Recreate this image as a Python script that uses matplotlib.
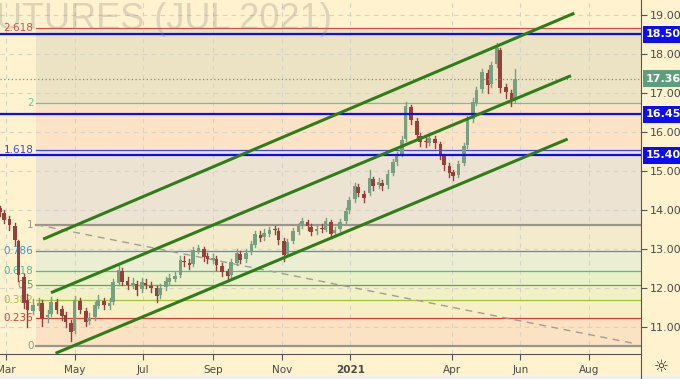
import numpy as np
import pandas as pd
import matplotlib
matplotlib.use('Agg')
import matplotlib.pyplot as plt
import matplotlib.dates as mdates
import matplotlib.transforms as mtransforms

# candles, one candle per 3 trading days
open_ = [14.05, 13.93, 13.78, 13.60, 13.20, 12.30, 11.70, 11.42, 11.55, 11.62,
         11.26, 11.34, 11.64, 11.47, 11.31, 11.12, 10.90, 11.68, 11.43, 11.16,
         11.26, 11.56, 11.68, 11.56, 11.65, 12.14, 12.45, 12.18, 12.07, 12.12,
         11.98, 12.14, 12.07, 12.00, 11.82, 12.03, 12.17, 12.25, 12.34, 12.71,
         12.66, 12.62, 12.96, 13.01, 12.82, 12.73, 12.76, 12.58, 12.44, 12.34,
         12.66, 12.89, 12.75, 12.93, 13.12, 13.37, 13.31, 13.40, 13.51, 13.47,
         13.22, 12.87, 13.21, 13.45, 13.62, 13.70, 13.58, 13.46, 13.54, 13.50,
         13.70, 13.41, 13.51, 13.72, 14.00, 14.28, 14.60, 14.42, 14.45, 14.80,
         14.64, 14.70, 14.64, 14.95, 15.22, 15.43, 15.81, 16.64, 16.29, 15.90,
         15.76, 15.72, 15.82, 15.69, 15.39, 15.13, 14.97, 14.89, 15.20, 15.66,
         16.33, 16.75, 17.09, 17.51, 17.22, 17.73, 18.10, 17.14, 17.00, 16.83]
high = [14.12, 14.00, 13.85, 13.66, 13.25, 12.38, 11.85, 11.72, 11.76, 11.70,
        11.45, 11.78, 11.72, 11.55, 11.40, 11.18, 11.80, 11.75, 11.50, 11.38,
        11.66, 11.82, 11.76, 11.75, 12.25, 12.58, 12.52, 12.28, 12.26, 12.20,
        12.26, 12.24, 12.16, 12.06, 12.10, 12.28, 12.36, 12.42, 12.82, 12.84,
        12.74, 13.06, 13.12, 13.06, 12.90, 12.88, 12.84, 12.64, 12.50, 12.76,
        13.00, 12.96, 13.00, 13.22, 13.48, 13.46, 13.52, 13.58, 13.60, 13.54,
        13.28, 13.26, 13.55, 13.68, 13.80, 13.76, 13.64, 13.62, 13.64, 13.80,
        13.76, 13.58, 13.78, 14.06, 14.34, 14.70, 14.66, 14.50, 15.02, 14.86,
        14.82, 14.78, 15.02, 15.32, 15.50, 15.90, 16.76, 16.70, 16.35, 15.98,
        15.86, 15.96, 15.90, 15.74, 15.44, 15.20, 15.04, 15.26, 15.72, 16.40,
        16.86, 17.16, 17.62, 17.58, 17.80, 18.28, 18.16, 17.24, 17.08, 17.62]
low = [13.85, 13.66, 13.50, 13.10, 12.20, 11.50, 11.00, 11.35, 11.45, 11.05,
       11.15, 11.30, 11.38, 11.20, 11.02, 10.66, 10.85, 11.36, 11.05, 11.08,
       11.20, 11.50, 11.48, 11.48, 11.60, 12.08, 12.08, 11.98, 12.00, 11.82,
       11.92, 12.00, 11.92, 11.66, 11.76, 11.96, 12.10, 12.18, 12.30, 12.58,
       12.50, 12.58, 12.90, 12.70, 12.66, 12.66, 12.48, 12.32, 12.22, 12.28,
       12.60, 12.64, 12.68, 12.88, 13.06, 13.20, 13.24, 13.34, 13.40, 13.14,
       12.70, 12.82, 13.16, 13.38, 13.55, 13.50, 13.36, 13.40, 13.44, 13.46,
       13.30, 13.34, 13.46, 13.66, 13.94, 14.22, 14.36, 14.20, 14.40, 14.52,
       14.56, 14.52, 14.58, 14.90, 15.16, 15.38, 15.76, 16.20, 15.82, 15.64,
       15.62, 15.66, 15.60, 15.30, 15.04, 14.84, 14.76, 14.84, 15.16, 15.60,
       16.26, 16.68, 17.02, 17.00, 17.15, 17.66, 17.02, 16.88, 16.66, 16.76]
close = [13.95, 13.75, 13.62, 13.23, 12.34, 11.63, 11.45, 11.58, 11.63, 11.24,
         11.32, 11.66, 11.45, 11.29, 11.14, 10.88, 11.70, 11.45, 11.14, 11.24,
         11.58, 11.70, 11.58, 11.63, 12.16, 12.47, 12.16, 12.09, 12.14, 11.96,
         12.16, 12.09, 12.01, 11.80, 12.01, 12.19, 12.27, 12.32, 12.73, 12.68,
         12.60, 12.98, 13.03, 12.80, 12.75, 12.78, 12.60, 12.42, 12.32, 12.68,
         12.91, 12.73, 12.91, 13.14, 13.39, 13.29, 13.42, 13.49, 13.49, 13.24,
         12.85, 13.19, 13.47, 13.60, 13.72, 13.60, 13.44, 13.52, 13.52, 13.72,
         13.39, 13.49, 13.70, 13.98, 14.26, 14.62, 14.44, 14.31, 14.82, 14.62,
         14.72, 14.62, 14.93, 15.24, 15.41, 15.79, 16.66, 16.31, 15.92, 15.74,
         15.74, 15.84, 15.71, 15.41, 15.15, 14.95, 14.87, 15.18, 15.64, 16.31,
         16.77, 17.07, 17.53, 17.20, 17.71, 18.15, 17.12, 17.02, 16.81, 17.36]
candle_start = '2020-02-25'

# fibonacci retracement
fib_start = '2020-03-28'
fib_zero = 10.52
fib_one = 13.63
fib_levels = [0, 0.236, 0.382, 0.5, 0.618, 0.786, 1, 1.618, 2, 2.618]
fib_labels = ['0', '0.236', '0.382', '0.5', '0.618', '0.786', '1', '1.618', '2', '2.618']
fib_colors = ['#9a968e', '#d0403c', '#a3c23a', '#4caf50', '#3cc49a', '#3d95d6',
              '#9a968e', '#4848d6', '#5ccc9e', '#d0504a']
fib_fills = ['#fbe2c3', '#f7efc6', '#f1f0c6', '#ecf0c9', '#ebeed2', '#f4ebcd',
             '#ece3d3', '#fde3c5', '#ece3c5']

# channel and trend lines
channel_d0 = ['2020-04-03', '2020-04-10', '2020-04-14']
channel_d1 = ['2021-07-19', '2021-07-16', '2021-07-13']
channel_p0 = [13.26, 11.89, 10.34]
channel_p1 = [19.04, 17.44, 15.82]
trend_d = ['2020-03-28', '2021-09-12']
trend_p = [13.63, 10.58]

blue_levels = [18.50, 16.45, 15.40]
last_price = 17.36

month_ticks = ['2020-03-01', '2020-05-01', '2020-07-01', '2020-09-01', '2020-11-01',
               '2021-01-01', '2021-04-01', '2021-06-01', '2021-08-01']
month_labels = ['Mar', 'May', 'Jul', 'Sep', 'Nov', '2021', 'Apr', 'Jun', 'Aug']

bg = '#fef2cf'
W, H = 680, 379

fig = plt.figure(figsize=(W / 100, H / 100), dpi=100, facecolor=bg)
ax = fig.add_axes([0, 25 / H, 641 / W, 354 / H])
ax.set_facecolor(bg)

d0 = mdates.date2num(pd.Timestamp('2020-03-01'))
ax.set_xlim(d0 - 5.33, d0 + 564.2)
ax.set_ylim(10.322, 19.376)

# fib bands and levels
fx0 = mdates.date2num(pd.Timestamp(fib_start))
fx1 = d0 + 564.2
rng = fib_one - fib_zero
fib_prices = [fib_zero + lv * rng for lv in fib_levels]
for i in range(len(fib_prices) - 1):
    ax.fill_between([fx0, fx1], fib_prices[i], fib_prices[i + 1], color=fib_fills[i], lw=0, zorder=0.5)
for lv, p, c, lab in zip(fib_levels, fib_prices, fib_colors, fib_labels):
    lw = 1.6 if lv in (0, 1) else 0.9
    ax.plot([fx0, fx1], [p, p], color=c, lw=lw, zorder=2)
    ax.text(fx0 - 2.5, p, lab, color=c, fontsize=7.5, ha='right', va='center', zorder=2)

# grid
ax.set_yticks(np.arange(11, 20, 1))
ax.set_yticklabels(['%.2f' % v for v in np.arange(11, 20, 1)])
ax.set_xticks([mdates.date2num(pd.Timestamp(d)) for d in month_ticks])
ax.set_xticklabels(month_labels)
ax.grid(True, color='#d6d3cb', lw=0.8, ls=(0, (4, 4)))
ax.yaxis.tick_right()
ax.tick_params(axis='y', direction='out', length=4, pad=2, labelsize=8, colors='#555555', labelcolor='#4a4a4a')
ax.tick_params(axis='x', direction='out', length=4, pad=4, labelsize=7.5, colors='#555555', labelcolor='#4a4a4a')
for t in ax.get_xticklabels():
    if t.get_text() == '2021':
        t.set_fontweight('bold')
for s in ['top', 'left']:
    ax.spines[s].set_visible(False)
ax.spines['right'].set_color('#555555')
ax.spines['bottom'].set_color('#555555')

# watermark
fig.text(-4 / W, (H - 29) / H, 'UTURES (JUL 2021)', fontsize=26,
         family='Liberation Sans', color='#8a8478', alpha=0.28, ha='left', va='baseline', zorder=1)

# trend line (dashed)
ax.plot([mdates.date2num(pd.Timestamp(d)) for d in trend_d], trend_p,
        color='#a39d92', lw=1, ls=(0, (5, 4)), zorder=2)

# candles
dates = pd.bdate_range(candle_start, periods=len(close), freq='3B')
xs = mdates.date2num(dates)
up_c, dn_c = '#76a07f', '#94403b'
for x, o, h, l, c in zip(xs, open_, high, low, close):
    col = up_c if c >= o else dn_c
    ax.plot([x, x], [l, h], color=col, lw=1.0, zorder=3)
    ax.bar(x, max(abs(c - o), 0.03), bottom=min(o, c), width=3.2, color=col, lw=0, zorder=3)

# horizontal levels
for p in blue_levels:
    ax.axhline(p, color='#0c0cf5', lw=1.6, zorder=4)
ax.axhline(last_price, color='#5ea07a', lw=0.9, ls=(0, (1, 2)), zorder=4)

# channel
for a, b, p0, p1 in zip(channel_d0, channel_d1, channel_p0, channel_p1):
    ax.plot([mdates.date2num(pd.Timestamp(a)), mdates.date2num(pd.Timestamp(b))], [p0, p1],
            color='#2f7d18', lw=2.2, solid_capstyle='butt', zorder=5)

# price tags
tr = mtransforms.blended_transform_factory(ax.transAxes, ax.transData)
for p, fc in [(18.50, '#0c0cf5'), (last_price, '#5f9e7c'), (16.45, '#0c0cf5'), (15.40, '#0c0cf5')]:
    ax.text(1.0 + 5 / 641, p, '%.2f' % p, transform=tr, ha='left', va='center', color='white',
            fontsize=8, fontweight='bold', zorder=6, clip_on=False,
            bbox=dict(boxstyle='square,pad=0.3', fc=fc, ec='none'))

# bottom right corner
fig.add_artist(plt.Line2D([641 / W, 641 / W], [0, 25 / H], color='#555555', lw=0.8))
fig.add_artist(plt.Rectangle((0, 0), 1, 3 / H, color='#eeeeee', lw=0))
fig.text(661 / W, (H - 367) / H, '\u263c', fontsize=12, color='#333333', ha='center', va='center')

fig.savefig('out.png', dpi=100, facecolor=bg)
